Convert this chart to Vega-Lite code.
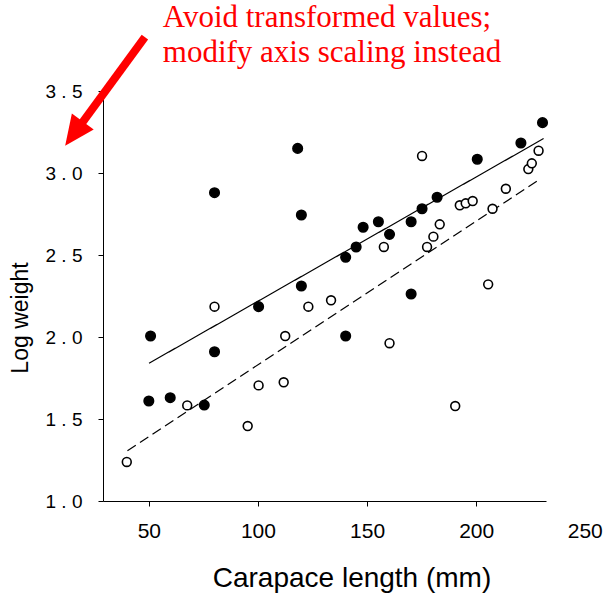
{
  "$schema": "https://vega.github.io/schema/vega-lite/v6.json",
  "width": 443,
  "height": 410,
  "autosize": {"type": "none"},
  "padding": {"left": 103, "top": 91, "right": 59, "bottom": 102},
  "background": "white",
  "config": {"view": {"stroke": null}, "axis": {"grid": false, "domainColor": "black", "tickColor": "black", "labelColor": "black", "titleColor": "black", "titleFontWeight": "normal", "labelFont": "Liberation Sans", "titleFont": "Liberation Sans"}},
  "datasets": {
    "points": [
      {"group": "solid", "length": 50, "logw": 1.61},
      {"group": "solid", "length": 59.8, "logw": 1.63},
      {"group": "solid", "length": 75.4, "logw": 1.585},
      {"group": "solid", "length": 50.8, "logw": 2.006},
      {"group": "solid", "length": 80.1, "logw": 1.91},
      {"group": "solid", "length": 80.1, "logw": 2.88},
      {"group": "solid", "length": 100.3, "logw": 2.185},
      {"group": "solid", "length": 118.2, "logw": 3.15},
      {"group": "solid", "length": 119.9, "logw": 2.744},
      {"group": "solid", "length": 119.9, "logw": 2.311},
      {"group": "solid", "length": 140.2, "logw": 2.486},
      {"group": "solid", "length": 140.2, "logw": 2.006},
      {"group": "solid", "length": 145, "logw": 2.549},
      {"group": "solid", "length": 148.2, "logw": 2.669},
      {"group": "solid", "length": 155.2, "logw": 2.703},
      {"group": "solid", "length": 160.3, "logw": 2.626},
      {"group": "solid", "length": 170.2, "logw": 2.703},
      {"group": "solid", "length": 170.2, "logw": 2.262},
      {"group": "solid", "length": 175.2, "logw": 2.782},
      {"group": "solid", "length": 182.1, "logw": 2.852},
      {"group": "solid", "length": 200.5, "logw": 3.084},
      {"group": "solid", "length": 220.5, "logw": 3.183},
      {"group": "solid", "length": 230.4, "logw": 3.307},
      {"group": "open", "length": 39.9, "logw": 1.238},
      {"group": "open", "length": 67.6, "logw": 1.583},
      {"group": "open", "length": 80.1, "logw": 2.185},
      {"group": "open", "length": 95.3, "logw": 1.457},
      {"group": "open", "length": 100.3, "logw": 1.705},
      {"group": "open", "length": 111.8, "logw": 1.724},
      {"group": "open", "length": 112.5, "logw": 2.006},
      {"group": "open", "length": 123.1, "logw": 2.185},
      {"group": "open", "length": 133.5, "logw": 2.224},
      {"group": "open", "length": 157.7, "logw": 2.549},
      {"group": "open", "length": 160.3, "logw": 1.962},
      {"group": "open", "length": 175.2, "logw": 3.104},
      {"group": "open", "length": 177.5, "logw": 2.549},
      {"group": "open", "length": 180.4, "logw": 2.612},
      {"group": "open", "length": 183.3, "logw": 2.687},
      {"group": "open", "length": 190.4, "logw": 1.579},
      {"group": "open", "length": 192.5, "logw": 2.803},
      {"group": "open", "length": 195.2, "logw": 2.815},
      {"group": "open", "length": 198.4, "logw": 2.829},
      {"group": "open", "length": 205.5, "logw": 2.321},
      {"group": "open", "length": 207.5, "logw": 2.782},
      {"group": "open", "length": 213.6, "logw": 2.904},
      {"group": "open", "length": 223.9, "logw": 3.024},
      {"group": "open", "length": 225.5, "logw": 3.059},
      {"group": "open", "length": 228.6, "logw": 3.136}
    ],
    "fits": [
      {"group": "solid", "length": 50.1, "logw": 1.84},
      {"group": "solid", "length": 230.9, "logw": 3.21},
      {"group": "open", "length": 40.2, "logw": 1.307},
      {"group": "open", "length": 229, "logw": 2.96}
    ],
    "extraTick": [
      {"length": 250, "logw": 1.0, "label": "250"}
    ],
    "note": [
      {"length": 56.4, "logw": 3.89, "text": "Avoid transformed values;"},
      {"length": 56.4, "logw": 3.677, "text": "modify axis scaling instead"}
    ],
    "arrowShaft": [
      {"length": 48.2, "logw": 3.829, "length2": 17.5, "logw2": 3.27}
    ],
    "arrowHead": [
      {"length": 15.7, "logw": 3.24}
    ]
  },
  "encoding": {
    "x": {
      "field": "length",
      "type": "quantitative",
      "scale": {"domain": [29, 232], "nice": false, "zero": false},
      "axis": {
        "values": [50, 100, 150, 200],
        "format": "d",
        "title": "Carapace length (mm)",
        "titleFontSize": 28,
        "titleX": 248.5,
        "titleY": 85,
        "titleBaseline": "alphabetic",
        "labelFontSize": 21,
        "tickSize": 5,
        "labelPadding": 14.5,
        "labelFlush": false,
        "labelOverlap": false
      }
    },
    "y": {
      "field": "logw",
      "type": "quantitative",
      "scale": {"domain": [1, 3.5], "nice": false, "zero": false},
      "axis": {
        "values": [1, 1.5, 2, 2.5, 3, 3.5],
        "format": ".1f",
        "labelExpr": "replace(datum.label, '.', ' . ')",
        "title": "Log weight",
        "titleFontSize": 23,
        "titleAngle": -90,
        "titleX": -76,
        "titleY": 226.5,
        "titleBaseline": "alphabetic",
        "labelFontSize": 19,
        "tickSize": 5,
        "labelPadding": 16,
        "labelFlush": false,
        "labelOverlap": false
      }
    }
  },
  "layer": [
    {
      "data": {"name": "fits"},
      "mark": {"type": "line", "color": "black", "strokeWidth": 1.2},
      "encoding": {
        "detail": {"field": "group"},
        "strokeDash": {"field": "group", "type": "nominal", "scale": {"domain": ["solid", "open"], "range": [[1, 0], [10, 5]]}, "legend": null}
      }
    },
    {
      "data": {"name": "points"},
      "mark": {"type": "point", "shape": "circle", "filled": false, "stroke": "black", "strokeWidth": 1.6, "opacity": 1},
      "encoding": {
        "fill": {"field": "group", "type": "nominal", "scale": {"domain": ["solid", "open"], "range": ["black", "white"]}, "legend": null},
        "size": {"field": "group", "type": "nominal", "scale": {"domain": ["solid", "open"], "range": [90, 78]}, "legend": null}
      }
    },
    {
      "data": {"name": "extraTick"},
      "mark": {"type": "text", "font": "Liberation Sans", "fontSize": 21, "baseline": "top", "align": "center", "dy": 19.5, "color": "black"},
      "encoding": {"text": {"field": "label"}}
    },
    {
      "data": {"name": "note"},
      "mark": {"type": "text", "font": "Liberation Serif", "fontSize": 31, "baseline": "alphabetic", "align": "left", "color": "#ff0000"},
      "encoding": {"text": {"field": "text"}}
    },
    {
      "data": {"name": "arrowShaft"},
      "mark": {"type": "rule", "color": "#ff0000", "strokeWidth": 8, "strokeCap": "butt"},
      "encoding": {
        "x2": {"field": "length2"},
        "y2": {"field": "logw2"}
      }
    },
    {
      "data": {"name": "arrowHead"},
      "mark": {"type": "point", "shape": "M0,1L-0.9,-1L0.9,-1Z", "filled": true, "color": "#ff0000", "size": 900, "angle": 36, "opacity": 1, "strokeWidth": 0}
    }
  ]
}
